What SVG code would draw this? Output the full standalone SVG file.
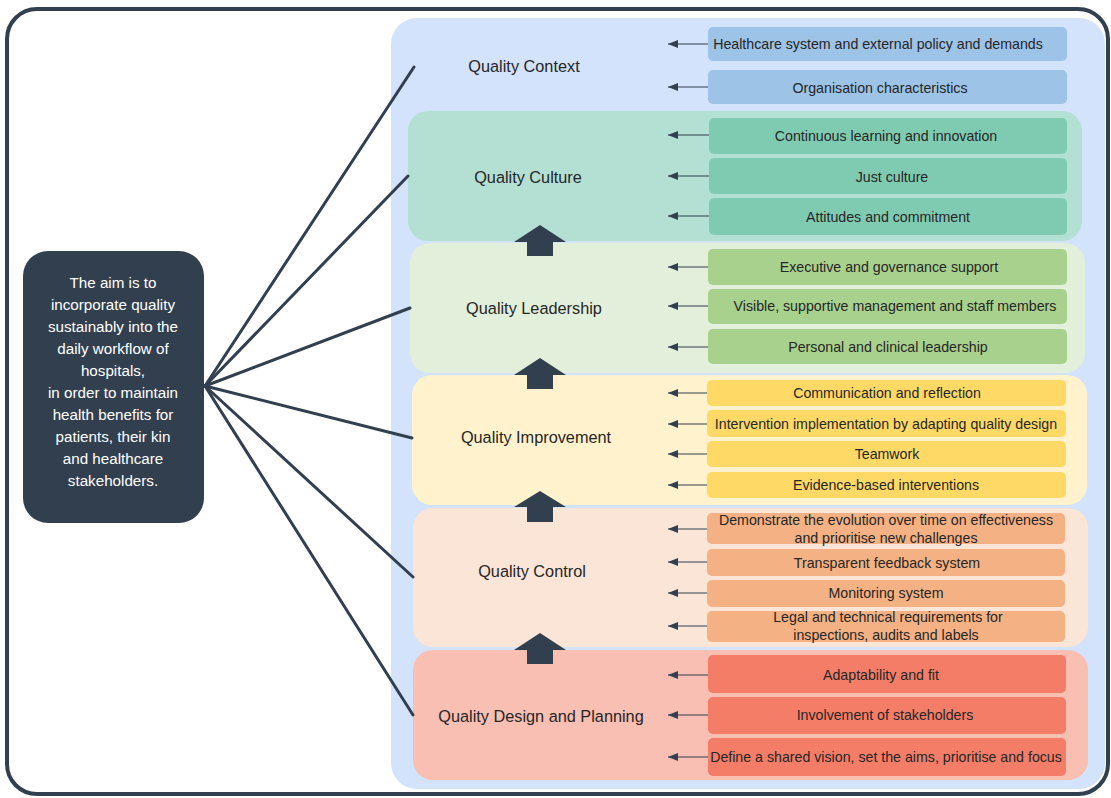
<svg xmlns="http://www.w3.org/2000/svg" width="1111" height="798" viewBox="0 0 1111 798">
<defs>
<marker id="ah" markerUnits="userSpaceOnUse" markerWidth="10" markerHeight="8" refX="10" refY="4" orient="auto" viewBox="0 0 10 8">
<path d="M10,4 L0,0 L0,8 Z" fill="#323F4F"/>
</marker>
<style>
.lbl{font-family:"Liberation Sans",Arial,sans-serif;font-size:16.3px;fill:#262626;text-anchor:middle}
.it{font-family:"Liberation Sans",Arial,sans-serif;font-size:14.2px;fill:#262626;text-anchor:middle}
.aim{font-family:"Liberation Sans",Arial,sans-serif;font-size:15.2px;fill:#ffffff;text-anchor:middle}
.fan{stroke:#323F4F;stroke-width:3;fill:none;stroke-linecap:round}
.sa{stroke:#323F4F;stroke-width:1.2;fill:none}
.up{fill:#323F4F}
</style>
</defs>
<rect x="7" y="9" width="1101" height="785" rx="30" fill="#ffffff" stroke="#323F4F" stroke-width="4"/>
<rect id="container" x="391" y="18" width="714" height="771" rx="26" fill="#D2E3FB"/>

<g id="context">
<text class="lbl" x="524" y="72">Quality Context</text>
<rect x="708" y="27" width="359" height="34" rx="5" fill="#9DC3E6"/>
<text class="it" x="878" y="49">Healthcare system and external policy and demands</text>
<rect x="708" y="70" width="359" height="34" rx="5" fill="#9DC3E6"/>
<text class="it" x="880" y="93">Organisation characteristics</text>
</g>

<g id="culture">
<rect x="408" y="111" width="674" height="130" rx="20" fill="#B3E0D3"/>
<text class="lbl" x="528" y="183">Quality Culture</text>
<rect x="709" y="118" width="358" height="36" rx="5" fill="#7FCBB1"/>
<text class="it" x="886" y="141">Continuous learning and innovation</text>
<rect x="709" y="158" width="358" height="36" rx="5" fill="#7FCBB1"/>
<text class="it" x="892" y="182">Just culture</text>
<rect x="709" y="198" width="358" height="37" rx="5" fill="#7FCBB1"/>
<text class="it" x="888" y="222">Attitudes and commitment</text>
</g>

<g id="leadership">
<rect x="410" y="243" width="675" height="130" rx="20" fill="#E2EFDA"/>
<text class="lbl" x="534" y="314">Quality Leadership</text>
<rect x="708" y="249" width="359" height="36" rx="5" fill="#A9D18E"/>
<text class="it" x="889" y="272">Executive and governance support</text>
<rect x="708" y="289" width="359" height="35" rx="5" fill="#A9D18E"/>
<text class="it" x="895" y="311">Visible, supportive management and staff members</text>
<rect x="708" y="329" width="359" height="35" rx="5" fill="#A9D18E"/>
<text class="it" x="888" y="352">Personal and clinical leadership</text>
</g>

<g id="improvement">
<rect x="412" y="375" width="675" height="130" rx="20" fill="#FFF2CC"/>
<text class="lbl" x="536" y="443">Quality Improvement</text>
<rect x="707" y="380" width="359" height="26" rx="5" fill="#FFD966"/>
<text class="it" x="887" y="398">Communication and reflection</text>
<rect x="707" y="410" width="359" height="27" rx="5" fill="#FFD966"/>
<text class="it" x="886" y="429">Intervention implementation by adapting quality design</text>
<rect x="707" y="441" width="359" height="26" rx="5" fill="#FFD966"/>
<text class="it" x="887" y="459">Teamwork</text>
<rect x="707" y="472" width="359" height="26" rx="5" fill="#FFD966"/>
<text class="it" x="886" y="490">Evidence-based interventions</text>
</g>

<g id="control">
<rect x="413" y="508" width="675" height="139" rx="20" fill="#FBE5D6"/>
<text class="lbl" x="532" y="577">Quality Control</text>
<rect x="707" y="513" width="358" height="31" rx="5" fill="#F4B183"/>
<text class="it" x="886" y="525">Demonstrate the evolution over time on effectiveness</text>
<text class="it" x="886" y="543">and prioritise new challenges</text>
<rect x="707" y="549" width="358" height="27" rx="5" fill="#F4B183"/>
<text class="it" x="887" y="568">Transparent feedback system</text>
<rect x="707" y="580" width="358" height="27" rx="5" fill="#F4B183"/>
<text class="it" x="886" y="598">Monitoring system</text>
<rect x="707" y="611" width="358" height="31" rx="5" fill="#F4B183"/>
<text class="it" x="888" y="622">Legal and technical requirements for</text>
<text class="it" x="886" y="640">inspections, audits and labels</text>
</g>

<g id="design">
<rect x="413" y="650" width="675" height="130" rx="20" fill="#F9BFB2"/>
<text class="lbl" x="541" y="722">Quality Design and Planning</text>
<rect x="708" y="655" width="358" height="38" rx="5" fill="#F47D68"/>
<text class="it" x="881" y="680">Adaptability and fit</text>
<rect x="708" y="697" width="358" height="37" rx="5" fill="#F47D68"/>
<text class="it" x="885" y="720">Involvement of stakeholders</text>
<rect x="708" y="738" width="358" height="38" rx="5" fill="#F47D68"/>
<text class="it" x="886" y="762">Define a shared vision, set the aims, prioritise and focus</text>
</g>

<g id="aim">
<rect x="23" y="251" width="181" height="272" rx="25" fill="#323F4F"/>
<text class="aim" x="113" y="288">The aim is to</text>
<text class="aim" x="113" y="310">incorporate quality</text>
<text class="aim" x="113" y="332">sustainably into the</text>
<text class="aim" x="113" y="354">daily workflow of</text>
<text class="aim" x="113" y="376">hospitals,</text>
<text class="aim" x="113" y="398">in order to maintain</text>
<text class="aim" x="113" y="420">health benefits for</text>
<text class="aim" x="113" y="442">patients, their kin</text>
<text class="aim" x="113" y="464">and healthcare</text>
<text class="aim" x="113" y="486">stakeholders.</text>
</g>

<g id="connectors">
<path class="fan" d="M205,386 L414,67"/>
<path class="fan" d="M205,386 L408,176"/>
<path class="fan" d="M205,386 L410,308"/>
<path class="fan" d="M205,386 L412,438"/>
<path class="fan" d="M205,386 L413,577"/>
<path class="fan" d="M205,386 L413,715"/>

<path class="up" d="M540,225 L566,242 L553,242 L553,256 L527,256 L527,242 L514,242 Z"/>
<path class="up" d="M540,358 L566,375 L553,375 L553,389 L527,389 L527,375 L514,375 Z"/>
<path class="up" d="M540,491 L566,507 L553,507 L553,522 L527,522 L527,507 L514,507 Z"/>
<path class="up" d="M540,633 L566,650 L553,650 L553,664 L527,664 L527,650 L514,650 Z"/>

<g class="sa">
<path d="M708,44 H668" marker-end="url(#ah)"/>
<path d="M708,87 H668" marker-end="url(#ah)"/>
<path d="M709,135 H668" marker-end="url(#ah)"/>
<path d="M709,176 H668" marker-end="url(#ah)"/>
<path d="M709,216 H668" marker-end="url(#ah)"/>
<path d="M708,267 H668" marker-end="url(#ah)"/>
<path d="M708,306 H668" marker-end="url(#ah)"/>
<path d="M708,347 H668" marker-end="url(#ah)"/>
<path d="M707,393 H668" marker-end="url(#ah)"/>
<path d="M707,424 H668" marker-end="url(#ah)"/>
<path d="M707,454 H668" marker-end="url(#ah)"/>
<path d="M707,485 H668" marker-end="url(#ah)"/>
<path d="M707,529 H668" marker-end="url(#ah)"/>
<path d="M707,562 H668" marker-end="url(#ah)"/>
<path d="M707,593 H668" marker-end="url(#ah)"/>
<path d="M707,626 H668" marker-end="url(#ah)"/>
<path d="M708,675 H668" marker-end="url(#ah)"/>
<path d="M708,715 H668" marker-end="url(#ah)"/>
<path d="M708,757 H668" marker-end="url(#ah)"/>
</g>
</g>
</svg>
